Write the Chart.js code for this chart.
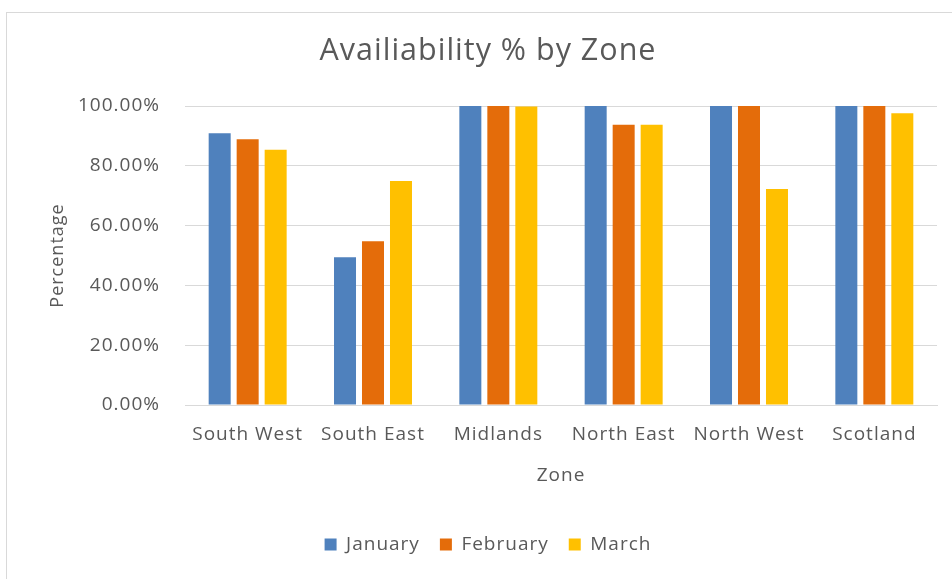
<!DOCTYPE html>
<html>
<head>
<meta charset="utf-8">
<script src="https://cdn.jsdelivr.net/npm/chart.js@4/dist/chart.umd.min.js"></script>
<style>
  html, body { margin: 0; padding: 0; background: #ffffff; overflow: hidden; }
  #wrap { position: relative; width: 952px; height: 579px; overflow: hidden; }
  #frame { position: absolute; left: 6px; top: 12px; width: 1100px; height: 700px; border: 1px solid #d9d9d9; }
  canvas { position: absolute; left: 0; top: 0; }
</style>
</head>
<body>
<div id="wrap">
  <div id="frame"></div>
  <canvas id="c" width="976" height="579"></canvas>
</div>
<script>
const zones = ["South West", "South East", "Midlands", "North East", "North West", "Scotland"];
const january = [90.9, 49.4, 100, 100, 100, 100];
const february = [88.9, 54.8, 100, 93.7, 100, 100];
const march = [85.4, 74.9, 99.8, 93.7, 72.2, 97.6];
const yTicks = [0, 20, 40, 60, 80, 100];

const textColor = '#595959';
const fontFamily = '"Open Sans", "Noto Sans", sans-serif';

const spacingPlugin = {
  id: 'spacing',
  beforeLayout(chart) { chart.ctx.letterSpacing = '1px'; },
  beforeDraw(chart) { chart.ctx.letterSpacing = '1px'; }
};

new Chart(document.getElementById('c'), {
  type: 'bar',
  plugins: [spacingPlugin],
  data: {
    labels: zones,
    datasets: [
      { label: 'January', data: january, backgroundColor: '#4F81BD' },
      { label: 'February', data: february, backgroundColor: '#E46C0A' },
      { label: 'March', data: march, backgroundColor: '#FFC000' }
    ]
  },
  options: {
    responsive: false,
    animation: false,
    devicePixelRatio: 1,
    categoryPercentage: 0.67,
    barPercentage: 0.786,
    layout: { padding: { left: 0, right: 0, top: 0, bottom: 15 } },
    plugins: {
      title: {
        display: true,
        text: 'Availiability % by Zone',
        color: textColor,
        font: { family: fontFamily, size: 30.5, weight: 'normal' },
        padding: { top: 33, bottom: 36.4 }
      },
      legend: {
        display: true,
        position: 'bottom',
        labels: {
          color: textColor,
          font: { family: fontFamily, size: 19 },
          boxWidth: 12,
          boxHeight: 12,
          padding: 20
        }
      },
      tooltip: { enabled: false }
    },
    scales: {
      x: {
        grid: { display: false, drawTicks: false },
        border: { display: true, color: '#d9d9d9', width: 1 },
        ticks: { color: textColor, font: { family: fontFamily, size: 19 }, padding: 18, maxRotation: 0, autoSkip: false },
        title: { display: true, text: 'Zone', color: textColor, font: { family: fontFamily, size: 19 }, padding: { top: 0, bottom: 28 } },
        afterFit: (s) => { s.height = 110; }
      },
      y: {
        min: 0,
        max: 100,
        afterBuildTicks: (s) => { s.ticks = yTicks.map(v => ({ value: v })); },
        grid: { color: '#d9d9d9', lineWidth: 1, drawTicks: false },
        border: { display: false },
        ticks: {
          color: textColor,
          font: { family: fontFamily, size: 19 },
          padding: 25,
          callback: (v) => Number(v).toFixed(2) + '%'
        },
        title: { display: true, text: 'Percentage', color: textColor, font: { family: fontFamily, size: 18 }, padding: { top: 47, bottom: 0 } },
        afterFit: (s) => { s.width = 185; }
      },
      spacer: {
        type: 'linear',
        position: 'right',
        display: true,
        min: 0,
        max: 100,
        grid: { display: false, drawTicks: false },
        border: { display: false },
        ticks: { display: false },
        afterFit: (s) => { s.width = 39; }
      }
    }
  }
});
</script>
</body>
</html>
